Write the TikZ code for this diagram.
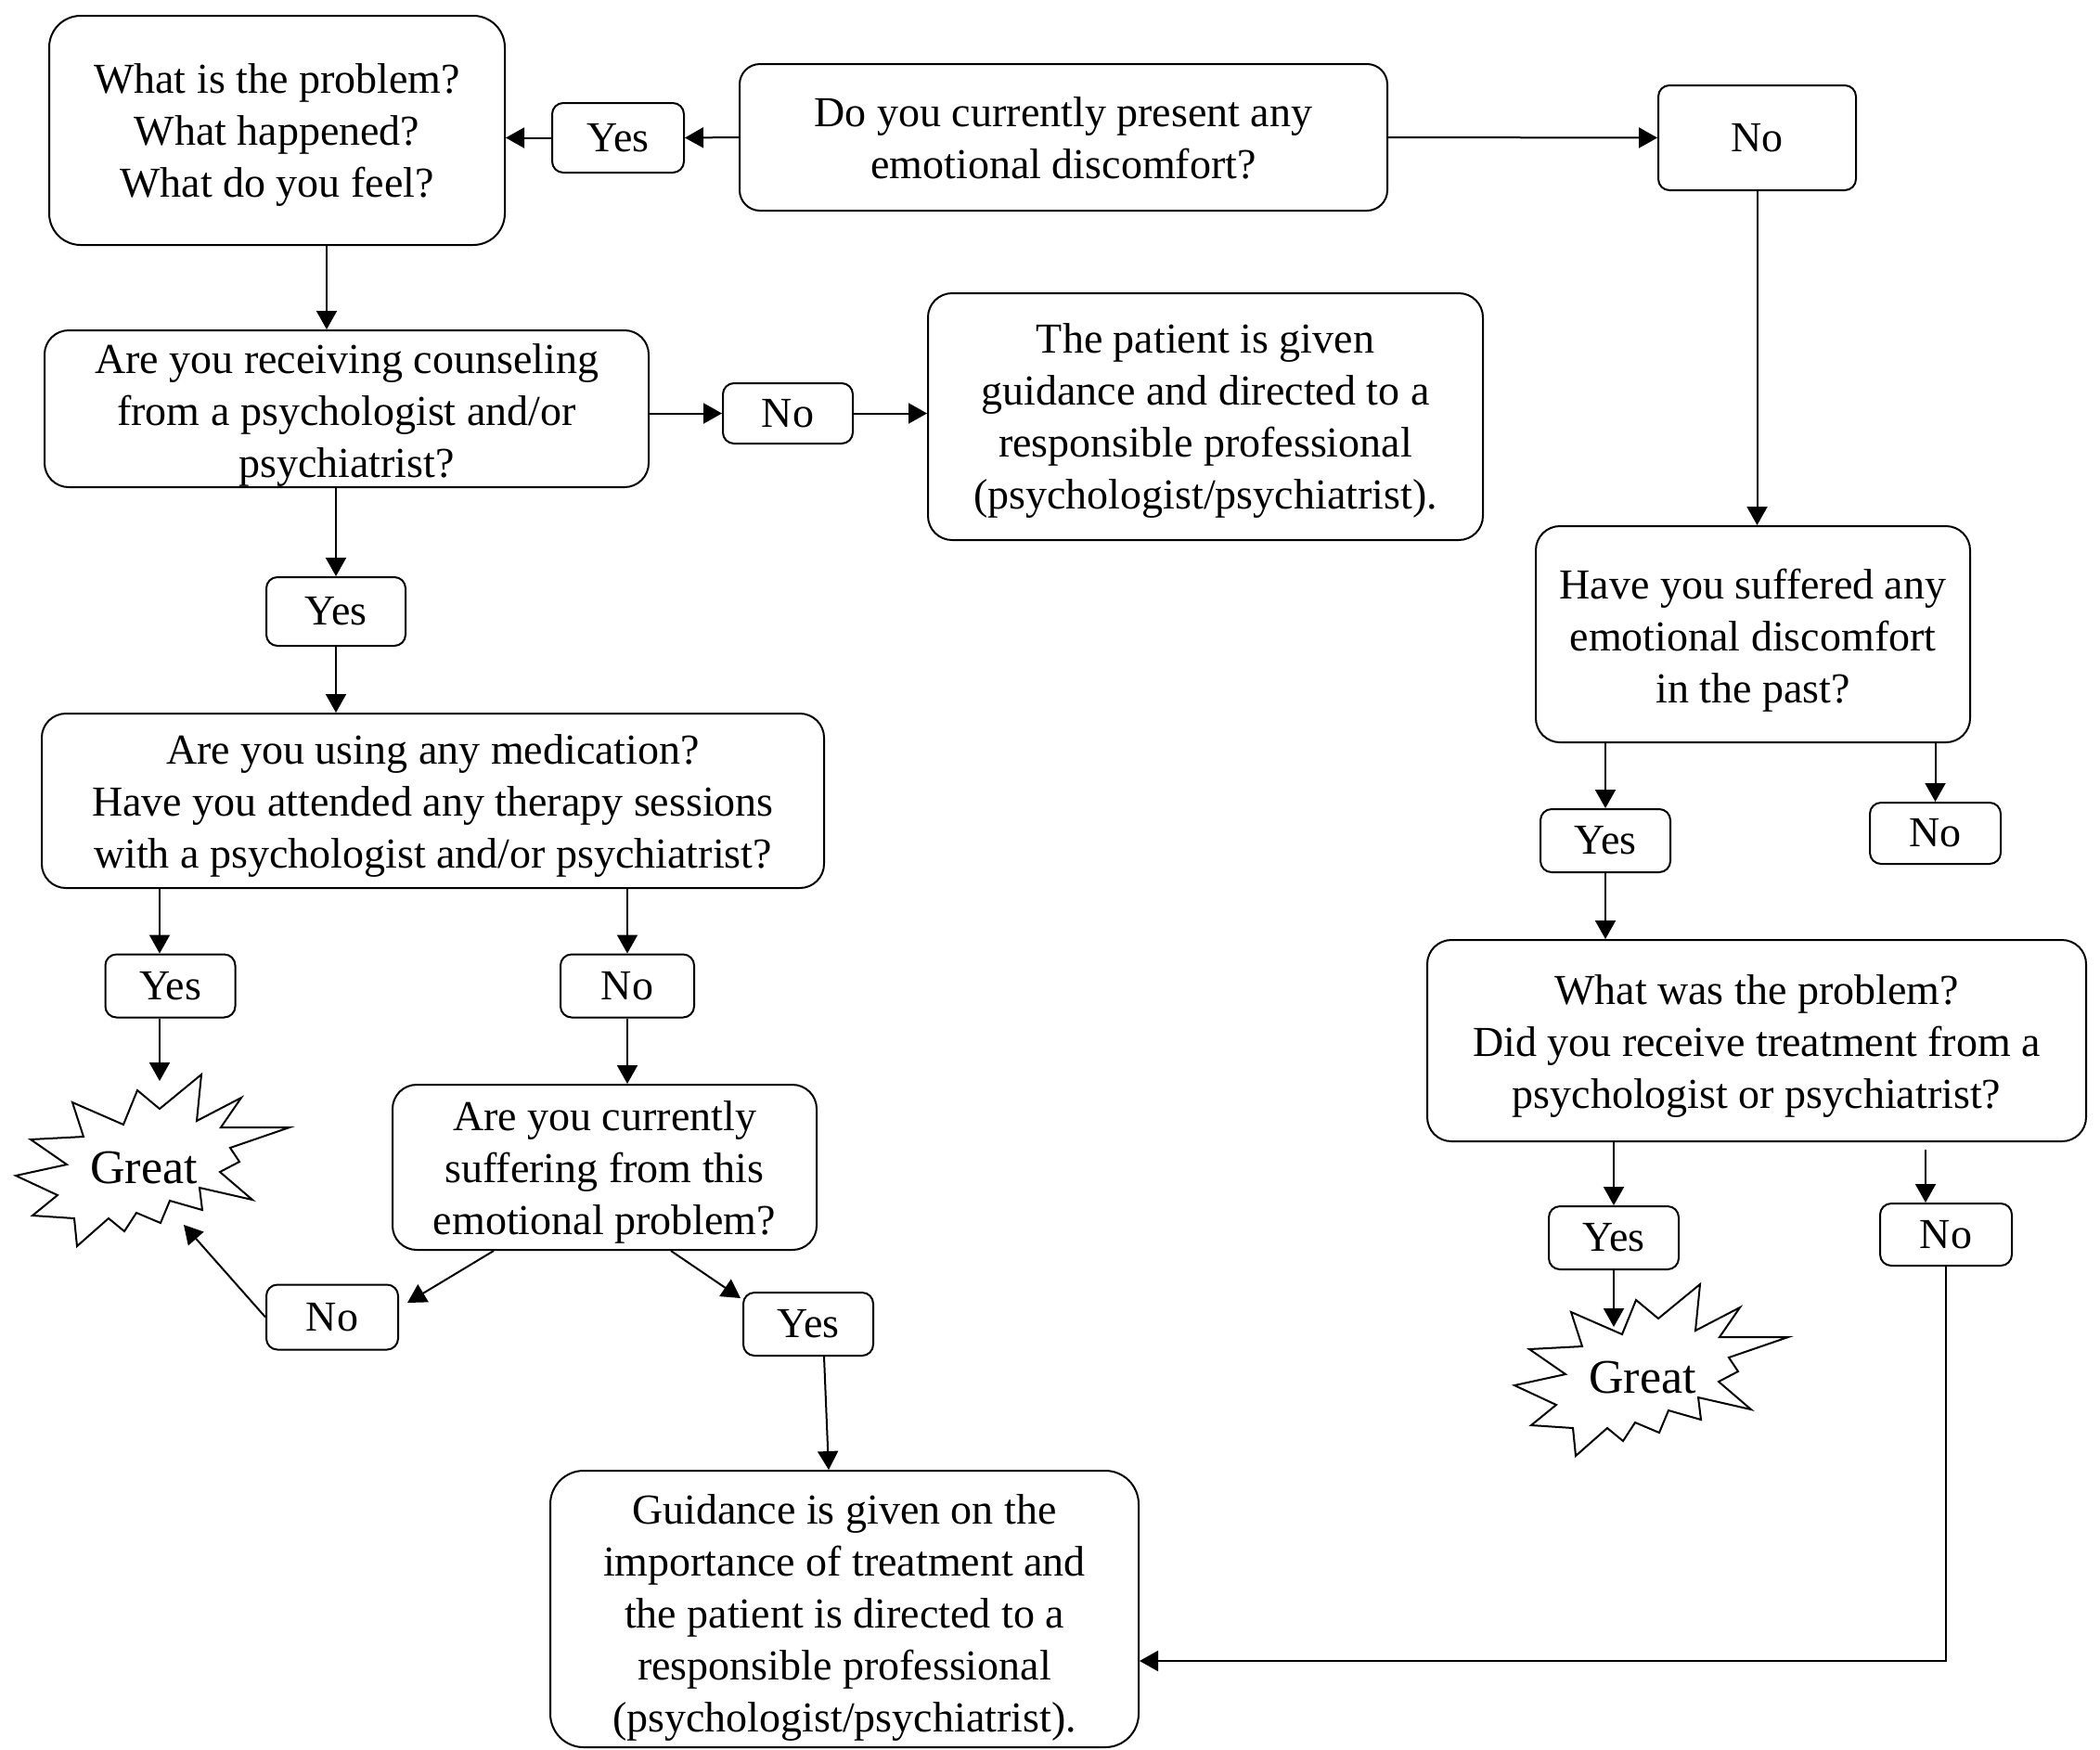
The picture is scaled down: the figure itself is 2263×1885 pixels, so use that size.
\documentclass[tikz,border=0pt]{standalone}
\usepackage{fontspec}
\setmainfont{Liberation Serif}
\usetikzlibrary{arrows.meta}
\usetikzlibrary{positioning}

% outline of the "Great" burst, drawn round a point
\newcommand{\burstoutline}[1]{%
	\draw[shift={(#1)},yshift=1pt] (-77,-69) -- (-22,-45) -- (-7,-82) -- (17,-62) -- (62,-99)
	-- (57,-49) -- (105,-74) -- (83,-42) -- (157,-42) -- (93,-20) -- (103,-5)
	-- (82,6) -- (117,36) -- (60,23) -- (63,47) -- (28,37) -- (18,61) -- (-8,50)
	-- (-21,70) -- (-38,56) -- (-72,86) -- (-75,56) -- (-120,53) -- (-93,31)
	-- (-138,10) -- (-83,-2) -- (-122,-29) -- (-65,-32) -- cycle;}
% invisible strut that lowers the first line of a box
\newcommand{\lift}[1]{\rule{0pt}{#1}}

\begin{document}
\begin{tikzpicture}[x=0.5pt,y=-0.5pt,>={Triangle[length=10pt,width=11pt]},
	line width=1pt,
	box node/.style={draw,rounded corners=13pt,align=center,inner sep=0pt,
		font=\fontsize{23}{28}\selectfont},
	small node/.style={draw,rounded corners=6pt,inner sep=0pt,minimum width=70pt,
		minimum height=34pt,font=\fontsize{23}{28}\selectfont},
	great node/.style={inner sep=0pt,font=\fontsize{26}{30}\selectfont}]
	
	\useasboundingbox (0,0) rectangle (2263,1885);
	
	\node[box node,minimum width=245.5pt,minimum height=123.5pt,rounded corners=17pt] (a) at (298.5,140.5) {\lift{21pt}What is the problem?\\What happened?\\What do you feel?};
	\node[small node,minimum width=71pt,minimum height=37.5pt] (yes1) at (666,148.5) {Yes};
	\node[box node,minimum width=349pt,minimum height=79pt,rounded corners=11pt] (b) at (1146,148) {\lift{17pt}Do you currently present any\\emotional discomfort?};
	\node[small node,minimum width=106.5pt,minimum height=56.5pt] (no1) at (1893.5,148.5) {No};
	
	\node[box node,minimum width=325.5pt,minimum height=84.5pt] (c) at (373.5,440.5) {\lift{23pt}Are you receiving counseling\\from a psychologist and/or\\psychiatrist?};
	\node[small node,minimum height=32.5pt] (no2) at (849,445.5) {No};
	\node[box node,minimum width=299pt,minimum height=133pt] (d) at (1299,449) {\lift{20pt}The patient is given\\guidance and directed to a\\responsible professional\\(psychologist/psychiatrist).};
	\node[small node,minimum width=75pt,minimum height=37pt] (yes2) at (362,659) {Yes};
	
	\node[box node,minimum width=421.5pt,minimum height=94pt] (e) at (466.5,863) {\lift{21.5pt}Are you using any medication?\\Have you attended any therapy sessions\\with a psychologist and/or psychiatrist?};
	\node[small node] (yes3) at (183.5,1062.5) {Yes};
	\node[small node,minimum width=72pt] (no3) at (676,1062.5) {No};
	\node[box node,minimum width=228.5pt,minimum height=89pt] (f) at (651.5,1258) {\lift{21pt}Are you currently\\suffering from this\\emotional problem?};
	\node[small node,minimum width=71pt,minimum height=35pt] (no4) at (358,1419.5) {No};
	\node[small node] (yes4) at (871,1427) {Yes};
	\node[box node,minimum width=317pt,minimum height=149pt,rounded corners=18pt] (g) at (910,1734) {\lift{25pt}Guidance is given on the\\importance of treatment and\\the patient is directed to a\\responsible professional\\(psychologist/psychiatrist).};
	
	\node[box node,minimum width=234pt,minimum height=116.5pt] (h) at (1889,683.5) {\lift{23pt}Have you suffered any\\emotional discomfort\\in the past?};
	\node[small node] (yes5) at (1730,906) {Yes};
	\node[small node,minimum width=70.5pt,minimum height=33pt] (no5) at (2085.5,898) {No};
	\node[box node,minimum width=355pt,minimum height=108.5pt] (i) at (1893,1121.5) {\lift{22pt}What was the problem?\\Did you receive treatment from a\\psychologist or psychiatrist?};
	\node[small node] (yes6) at (1739,1334) {Yes};
	\node[small node,minimum width=71pt,minimum height=33.5pt] (no6) at (2097,1330.5) {No};
	
	% the two bursts
	\node[great node] (great1) at (155,1259) {Great};
	\node[great node] (great2) at (1770,1485) {Great};
	\burstoutline{great1.center}
	\burstoutline{great2.center}
	\coordinate (g1in) at (172,1165);
	\coordinate (g1side) at (198,1320);
	\coordinate (g2in) at (1739,1430);
	
	\path[->]
	(b.west) edge (yes1.east)
	(yes1.west) edge (yes1.west -| a.east)
	(b.east) edge (no1.west)
	([xshift=26.75pt]a.south) edge ([xshift=-10.75pt]c.north)
	(c.east |- no2) edge (no2.west)
	(no2.east) edge (no2 -| d.west)
	(no1.south) edge (no1 |- h.north)
	(c.south -| yes2) edge (yes2.north)
	(yes2.south) edge (yes2 |- e.north)
	(e.south -| g1in) edge (yes3.north -| g1in)
	(yes3.south -| g1in) edge (g1in)
	(e.south -| no3) edge (no3.north)
	(no3.south) edge (no3 |- f.north)
	([xshift=-59.75pt]f.south) edge ([xshift=4.5pt,yshift=-10.25pt]no4.north east)
	([xshift=35.75pt]f.south) edge ([xshift=-1pt,yshift=-3.5pt]yes4.north west)
	(no4.west) edge (g1side)
	([xshift=8.5pt]yes4.south) edge ([xshift=-8.5pt]g.north)
	(h.south -| yes5) edge (yes5.north)
	(h.south -| no5) edge (no5.north)
	(yes5.south) edge (yes5 |- i.north)
	(i.south -| yes6) edge (yes6.north)
	(yes6.south) edge (g2in)
	([xshift=91pt,yshift=-4pt]i.south) edge ([xshift=-11pt]no6.north);
	\draw[->] (no6.south) |- ([yshift=-28pt]g.east);
\end{tikzpicture}
\end{document}
